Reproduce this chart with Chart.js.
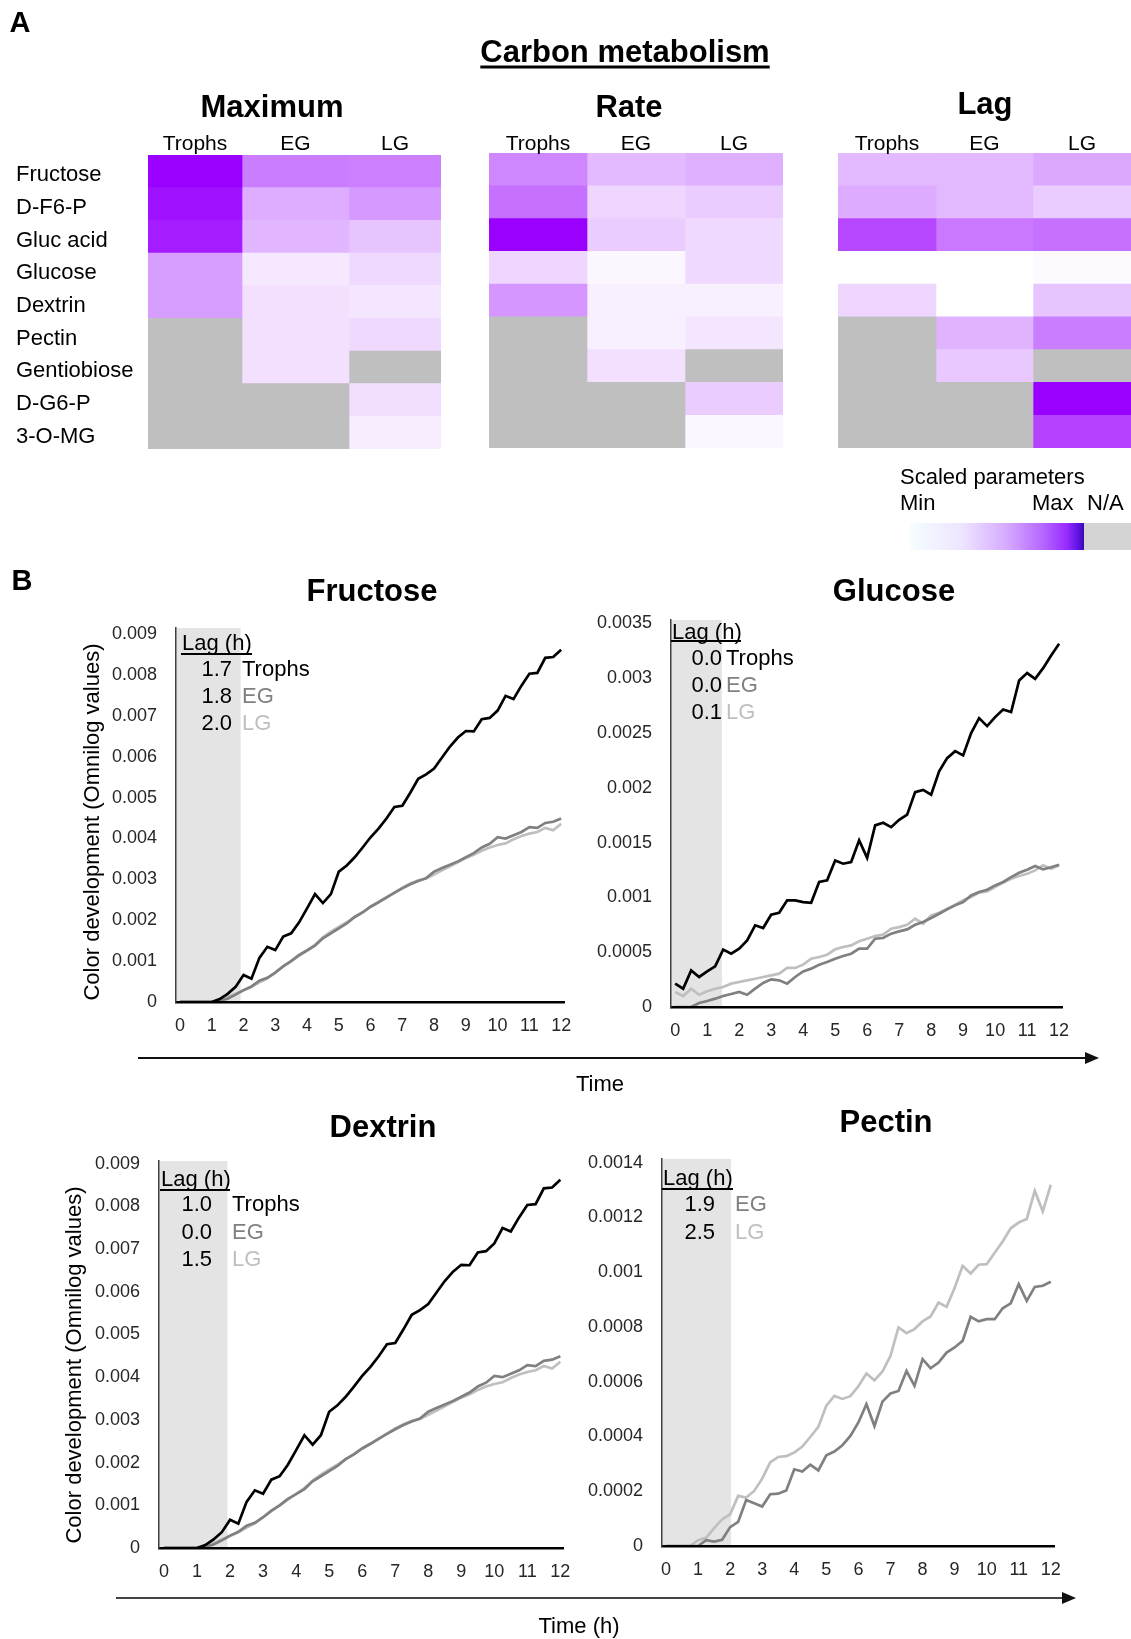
<!DOCTYPE html>
<html>
<head>
<meta charset="utf-8">
<script src="https://cdn.jsdelivr.net/npm/chart.js@4.4.0/dist/chart.umd.min.js"></script>
<style>
  body { margin: 0; background: #fff; overflow: hidden; }
  #fig { position: relative; width: 1131px; height: 1639px; overflow: hidden; font-family: 'Liberation Sans', Arial, sans-serif; color: #000; }
  #fig canvas { position: absolute; }
  .t { position: absolute; white-space: nowrap; line-height: 1; z-index: 3; }
  svg { position: absolute; left: 0; top: 0; z-index: 2; }
</style>
</head>
<body>
<div id="fig"></div>
<script>
// ---- heatmap data (scaled 0..1, null = N/A) ----
const rowNames = ["Fructose", "D-F6-P", "Gluc acid", "Glucose", "Dextrin", "Pectin", "Gentiobiose", "D-G6-P", "3-O-MG"];
const groupNames = ["Trophs", "EG", "LG"];

const maxTrophs = [1.0, 0.93, 0.89, 0.38, 0.38, null, null, null, null];
const maxEG = [0.51, 0.32, 0.29, 0.09, 0.12, 0.12, 0.12, null, null];
const maxLG = [0.50, 0.40, 0.23, 0.15, 0.10, 0.15, null, 0.125, 0.07];

const rateTrophs = [0.47, 0.56, 1.0, 0.16, 0.41, null, null, null, null];
const rateEG = [0.27, 0.16, 0.20, 0.03, 0.06, 0.06, 0.12, null, null];
const rateLG = [0.31, 0.20, 0.15, 0.15, 0.06, 0.10, null, 0.20, 0.035];

const lagTrophs = [0.27, 0.33, 0.72, 0, 0.16, null, null, null, null];
const lagEG = [0.28, 0.28, 0.53, 0, 0, 0.30, 0.22, null, null];
const lagLG = [0.34, 0.20, 0.56, 0.02, 0.23, 0.51, null, 1.0, 0.74];

// ---- growth curves ----
const hours = [0, 0.25, 0.5, 0.75, 1, 1.25, 1.5, 1.75, 2, 2.25, 2.5, 2.75, 3, 3.25, 3.5, 3.75, 4, 4.25, 4.5, 4.75, 5, 5.25, 5.5, 5.75, 6, 6.25, 6.5, 6.75, 7, 7.25, 7.5, 7.75, 8, 8.25, 8.5, 8.75, 9, 9.25, 9.5, 9.75, 10, 10.25, 10.5, 10.75, 11, 11.25, 11.5, 11.75, 12];
const hourTicks = [0, 1, 2, 3, 4, 5, 6, 7, 8, 9, 10, 11, 12];

const fructoseTrophs = [0, 0, 0, 0, 0, 0.00007, 0.0002, 0.00037, 0.00066, 0.00057, 0.00108, 0.00135, 0.00127, 0.0016, 0.00168, 0.00195, 0.00229, 0.00264, 0.00242, 0.00264, 0.00319, 0.00334, 0.00354, 0.00378, 0.00403, 0.00424, 0.00449, 0.00477, 0.0048, 0.00512, 0.00546, 0.00557, 0.00571, 0.00598, 0.00625, 0.00647, 0.00663, 0.00662, 0.00692, 0.00695, 0.00713, 0.00749, 0.00741, 0.00774, 0.00803, 0.00805, 0.00842, 0.00844, 0.00862];
const fructoseEG = [0, 0, 0, 0, 0, 0.00003, 0.00008, 0.00018, 0.00029, 0.00038, 0.00052, 0.00059, 0.00072, 0.00087, 0.001, 0.00115, 0.00126, 0.00138, 0.00156, 0.00168, 0.0018, 0.00192, 0.00208, 0.00219, 0.00233, 0.00244, 0.00256, 0.00267, 0.00278, 0.00288, 0.00296, 0.00303, 0.00319, 0.00328, 0.00336, 0.00344, 0.00354, 0.00364, 0.00378, 0.00387, 0.00403, 0.004, 0.00408, 0.00416, 0.00428, 0.00426, 0.00438, 0.00441, 0.00449];
const fructoseLG = [0, 0, 0, 0, 0, 0.00005, 0.00012, 0.0002, 0.00028, 0.00037, 0.00048, 0.00058, 0.00072, 0.00088, 0.001, 0.00113, 0.00127, 0.0014, 0.00158, 0.00172, 0.00184, 0.00195, 0.00208, 0.0022, 0.00233, 0.00244, 0.00255, 0.00268, 0.0028, 0.0029, 0.00298, 0.00302, 0.00312, 0.00322, 0.00332, 0.00342, 0.00352, 0.0036, 0.0037, 0.00378, 0.00384, 0.00388, 0.00398, 0.00406, 0.00412, 0.00416, 0.00426, 0.0042, 0.00436];

const glucoseTrophs = [0.000213, 0.000167, 0.000334, 0.000274, 0.000325, 0.000371, 0.000523, 0.000486, 0.000532, 0.000608, 0.000745, 0.00072, 0.000842, 0.00086, 0.000973, 0.000973, 0.000957, 0.000951, 0.00114, 0.001155, 0.001337, 0.001307, 0.001322, 0.00152, 0.00136, 0.001657, 0.00168, 0.00164, 0.001708, 0.001754, 0.00196, 0.00198, 0.001936, 0.00215, 0.00227, 0.002334, 0.002295, 0.002498, 0.002635, 0.002562, 0.002644, 0.002714, 0.00269, 0.002979, 0.003046, 0.002994, 0.003091, 0.003207, 0.003313];
const glucoseEG = [0, 0, 0, 0.000036, 0.000055, 0.000076, 0.0001, 0.000119, 0.000137, 0.000112, 0.000167, 0.000219, 0.000252, 0.000243, 0.000213, 0.000274, 0.000325, 0.00035, 0.000386, 0.00041, 0.000441, 0.000465, 0.000486, 0.000532, 0.000532, 0.000623, 0.000629, 0.000669, 0.00069, 0.000708, 0.00075, 0.000775, 0.000812, 0.000851, 0.00089, 0.000927, 0.000957, 0.001018, 0.001049, 0.00107, 0.001109, 0.00114, 0.001185, 0.001225, 0.001252, 0.001286, 0.001255, 0.001275, 0.001298];
const glucoseLG = [0.000137, 0.0001, 0.000167, 0.000112, 0.000143, 0.000167, 0.000182, 0.000213, 0.000228, 0.000243, 0.000258, 0.000274, 0.000289, 0.000304, 0.000356, 0.000356, 0.000386, 0.000441, 0.000456, 0.000477, 0.000526, 0.000547, 0.000562, 0.000599, 0.000623, 0.000647, 0.00066, 0.000714, 0.000729, 0.00075, 0.000805, 0.00076, 0.000836, 0.00086, 0.000897, 0.000933, 0.000973, 0.001003, 0.001043, 0.001055, 0.001094, 0.001134, 0.00117, 0.001195, 0.001216, 0.001246, 0.001292, 0.001261, 0.001292];

const dextrinTrophs = [0, 0, 0, 0, 0, 0.00007, 0.0002, 0.00037, 0.00066, 0.00057, 0.00108, 0.00135, 0.00127, 0.0016, 0.00168, 0.00195, 0.00229, 0.00264, 0.00242, 0.00264, 0.00319, 0.00334, 0.00354, 0.00378, 0.00403, 0.00424, 0.00449, 0.00477, 0.0048, 0.00512, 0.00546, 0.00557, 0.00571, 0.00598, 0.00625, 0.00647, 0.00663, 0.00662, 0.00692, 0.00695, 0.00713, 0.00749, 0.00741, 0.00774, 0.00803, 0.00805, 0.00842, 0.00844, 0.00862];
const dextrinEG = [0, 0, 0, 0, 0, 0.00003, 0.00008, 0.00018, 0.00029, 0.00038, 0.00052, 0.00059, 0.00072, 0.00087, 0.001, 0.00115, 0.00126, 0.00138, 0.00156, 0.00168, 0.0018, 0.00192, 0.00208, 0.00219, 0.00233, 0.00244, 0.00256, 0.00267, 0.00278, 0.00288, 0.00296, 0.00303, 0.00319, 0.00328, 0.00336, 0.00344, 0.00354, 0.00364, 0.00378, 0.00387, 0.00403, 0.004, 0.00408, 0.00416, 0.00428, 0.00426, 0.00438, 0.00441, 0.00449];
const dextrinLG = [0, 0, 0, 0, 0, 0.00005, 0.00012, 0.0002, 0.00028, 0.00037, 0.00048, 0.00058, 0.00072, 0.00088, 0.001, 0.00113, 0.00127, 0.0014, 0.00158, 0.00172, 0.00184, 0.00195, 0.00208, 0.0022, 0.00233, 0.00244, 0.00255, 0.00268, 0.0028, 0.0029, 0.00298, 0.00302, 0.00312, 0.00322, 0.00332, 0.00342, 0.00352, 0.0036, 0.0037, 0.00378, 0.00384, 0.00388, 0.00398, 0.00406, 0.00412, 0.00416, 0.00426, 0.0042, 0.00436];

const pectinEG = [0, 0, 0, 0, 0, 0.000021, 0.000016, 0.000023, 0.000069, 0.000088, 0.000168, 0.000156, 0.000144, 0.000189, 0.000191, 0.000203, 0.00028, 0.000272, 0.000297, 0.000276, 0.000331, 0.000345, 0.000368, 0.000402, 0.000451, 0.000518, 0.000438, 0.000527, 0.000557, 0.000566, 0.000639, 0.000585, 0.000682, 0.000649, 0.00067, 0.000706, 0.000725, 0.000749, 0.000837, 0.00082, 0.000828, 0.000828, 0.000868, 0.000886, 0.000956, 0.000895, 0.000946, 0.00095, 0.000965];
const pectinLG = [0, 0, 0, 0, 0.000021, 0.00003, 0.000065, 0.000097, 0.000116, 0.000183, 0.000177, 0.000201, 0.000246, 0.000305, 0.000325, 0.000328, 0.000341, 0.000363, 0.000398, 0.000435, 0.000512, 0.000548, 0.000537, 0.000547, 0.000583, 0.00063, 0.000605, 0.000637, 0.000694, 0.000798, 0.000777, 0.000792, 0.00082, 0.000838, 0.000889, 0.000873, 0.000942, 0.001023, 0.000995, 0.001027, 0.001029, 0.001071, 0.001112, 0.00116, 0.001181, 0.001194, 0.001297, 0.001222, 0.001319];

const fructoseYTicks = [0, 0.001, 0.002, 0.003, 0.004, 0.005, 0.006, 0.007, 0.008, 0.009];
const glucoseYTicks = [0, 0.0005, 0.001, 0.0015, 0.002, 0.0025, 0.003, 0.0035];
const pectinYTicks = [0, 0.0002, 0.0004, 0.0006, 0.0008, 0.001, 0.0012, 0.0014];

const fructoseLag = [1.7, 1.8, 2.0];
const glucoseLag = [0.0, 0.0, 0.1];
const dextrinLag = [1.0, 0.0, 1.5];
const pectinLag = [1.9, 2.5];

const groupColors = { Trophs: "#000000", EG: "#808080", LG: "#bfbfbf" };
const naGray = "#bfbfbf";

const fig = document.getElementById("fig");
Chart.defaults.font.family = "'Liberation Sans', Arial, sans-serif";
Chart.defaults.color = "#262626";

function addCanvas(box) {
	const canvas = document.createElement("canvas");
	canvas.width = box.width;
	canvas.height = box.height;
	canvas.style.left = box.left + "px";
	canvas.style.top = box.top + "px";
	fig.appendChild(canvas);
	return canvas;
}

function addText(str, x, y, o = {}) {
	const el = document.createElement("div");
	el.className = "t";
	el.textContent = str;
	el.style.left = x + "px";
	el.style.top = y + "px";
	el.style.fontSize = (o.size || 22) + "px";
	if (o.bold) el.style.fontWeight = "bold";
	if (o.color) el.style.color = o.color;
	if (o.underline) {
		el.style.textDecoration = "underline";
		el.style.textDecorationThickness = "3px";
		el.style.textUnderlineOffset = "4px";
	}
	const ax = o.align === "left" ? "0" : o.align === "right" ? "-100%" : "-50%";
	el.style.transform = `translate(${ax}, -50%)` + (o.rotate ? ` rotate(${o.rotate}deg)` : "");
	fig.appendChild(el);
	return el;
}

function heatColor(v) {
	if (v === null) return naGray;
	const r = Math.round(255 - 102 * v);
	const g = Math.round(255 - 255 * v);
	return `rgb(${r},${g},255)`;
}

// ---- heatmaps ----
const heatPanels = [
	{ title: "Maximum", titlePos: [272, 106], values: [maxTrophs, maxEG, maxLG], box: { left: 148, top: 155, width: 293, height: 294 }, spans: [94, 107, 92] },
	{ title: "Rate", titlePos: [629, 106], values: [rateTrophs, rateEG, rateLG], box: { left: 489, top: 153, width: 294, height: 295 }, spans: [98, 98, 98] },
	{ title: "Lag", titlePos: [985, 103], values: [lagTrophs, lagEG, lagLG], box: { left: 838, top: 153, width: 293, height: 295 }, spans: [98, 97, 98] },
];

heatPanels.forEach((panel) => {
	const canvas = addCanvas(panel.box);
	const total = panel.spans.reduce((a, b) => a + b, 0);
	new Chart(canvas, {
		type: "bar",
		data: {
			labels: rowNames,
			datasets: groupNames.map((g, i) => ({
				label: g,
				data: rowNames.map(() => panel.spans[i]),
				backgroundColor: panel.values[i].map(heatColor),
				borderWidth: 0,
				barPercentage: 1,
				categoryPercentage: 1,
			})),
		},
		options: {
			indexAxis: "y",
			responsive: false,
			animation: false,
			events: [],
			layout: { padding: 0 },
			plugins: { legend: { display: false }, tooltip: { enabled: false } },
			scales: {
				x: { stacked: true, display: false, min: 0, max: total },
				y: { stacked: true, display: false },
			},
		},
	});

	addText(panel.title, panel.titlePos[0], panel.titlePos[1], { size: 31, bold: true });
	let acc = panel.box.left;
	groupNames.forEach((g, i) => {
		addText(g, acc + panel.spans[i] / 2, 142, { size: 21 });
		acc += panel.spans[i];
	});
});

const rowH = 294 / rowNames.length;
rowNames.forEach((name, i) => {
	addText(name, 16, 155 + rowH * (i + 0.5) + 3, { size: 22, align: "left" });
});

// ---- growth curve charts ----
const lagShade = {
	id: "lagShade",
	beforeDraw(chart, args, opts) {
		if (!opts || opts.until === undefined) return;
		const { ctx, chartArea, scales } = chart;
		const x1 = scales.x.getPixelForValue(opts.until);
		ctx.save();
		ctx.fillStyle = opts.color;
		ctx.fillRect(chartArea.left, chartArea.top, x1 - chartArea.left, chartArea.bottom - chartArea.top);
		ctx.restore();
	},
};
Chart.register(lagShade);

// tick padding adds to the axis' own top/bottom padding, so keep the layout padding above it
const AXIS_W = 100, AXIS_H = 44, PAD_TOP = 36, PAD_RIGHT = 26;

const lineCharts = [
	{
		title: "Fructose", titlePos: [372, 590],
		plot: { left: 176, right: 564, top: 628, bottom: 1002 },
		xMin: -0.126, xMax: 12.09, yMax: 0.00915, yTicks: fructoseYTicks, shadeTo: 1.91,
		series: [["Trophs", fructoseTrophs], ["EG", fructoseEG], ["LG", fructoseLG]],
		lag: fructoseLag, lagGroups: ["Trophs", "EG", "LG"],
		table: { left: 182, headY: 643, lineY: 654, lineW: 71, rows: [669, 696, 723], numRight: 232, nameLeft: 242 },
		yTitle: [92, 822],
	},
	{
		title: "Glucose", titlePos: [894, 590],
		plot: { left: 671, right: 1062, top: 620, bottom: 1007 },
		xMin: -0.13, xMax: 12.09, yMax: 0.00353, yTicks: glucoseYTicks, shadeTo: 1.46,
		series: [["Trophs", glucoseTrophs], ["EG", glucoseEG], ["LG", glucoseLG]],
		lag: glucoseLag, lagGroups: ["Trophs", "EG", "LG"],
		table: { left: 672, headY: 632, lineY: 641, lineW: 70, rows: [658, 685, 712], numRight: 722, nameLeft: 726 },
	},
	{
		title: "Dextrin", titlePos: [383, 1126],
		plot: { left: 159, right: 563, top: 1161, bottom: 1548 },
		xMin: -0.152, xMax: 12.08, yMax: 0.00906, yTicks: fructoseYTicks, shadeTo: 1.92,
		series: [["Trophs", dextrinTrophs], ["EG", dextrinEG], ["LG", dextrinLG]],
		lag: dextrinLag, lagGroups: ["Trophs", "EG", "LG"],
		table: { left: 161, headY: 1179, lineY: 1190, lineW: 70, rows: [1204, 1232, 1259], numRight: 212, nameLeft: 232 },
		yTitle: [74, 1365],
	},
	{
		title: "Pectin", titlePos: [886, 1121],
		plot: { left: 662, right: 1054, top: 1159, bottom: 1546 },
		xMin: -0.125, xMax: 12.1, yMax: 0.001413, yTicks: pectinYTicks, shadeTo: 2.03,
		series: [["EG", pectinEG], ["LG", pectinLG]],
		lag: pectinLag, lagGroups: ["EG", "LG"],
		table: { left: 663, headY: 1178, lineY: 1189, lineW: 71, rows: [1204, 1232], numRight: 715, nameLeft: 735 },
	},
];

lineCharts.forEach((c) => {
	const p = c.plot;
	const canvas = addCanvas({
		left: p.left - AXIS_W,
		top: p.top - PAD_TOP,
		width: AXIS_W + (p.right - p.left) + PAD_RIGHT,
		height: PAD_TOP + (p.bottom - p.top) + AXIS_H,
	});
	new Chart(canvas, {
		type: "line",
		data: {
			datasets: c.series.map(([label, values]) => ({
				label,
				data: hours.map((h, i) => ({ x: h, y: values[i] })),
				borderColor: groupColors[label],
				borderWidth: 2.7,
				pointRadius: 0,
				tension: 0,
				fill: false,
			})),
		},
		options: {
			responsive: false,
			animation: false,
			events: [],
			layout: { padding: { top: PAD_TOP, right: PAD_RIGHT, left: 0, bottom: 0 } },
			plugins: {
				legend: { display: false },
				tooltip: { enabled: false },
				lagShade: { until: c.shadeTo, color: "#e4e4e4" },
			},
			scales: {
				x: {
					type: "linear",
					min: c.xMin,
					max: c.xMax,
					afterBuildTicks: (s) => { s.ticks = hourTicks.map((v) => ({ value: v })); },
					afterFit: (s) => { s.height = AXIS_H; },
					grid: { display: false, drawTicks: false },
					border: { display: true, color: "#000", width: 2.5, z: 1 },
					ticks: { padding: 13, font: { size: 18 }, color: "#262626", maxRotation: 0, autoSkip: false, callback: (v) => String(v) },
				},
				y: {
					min: 0,
					max: c.yMax,
					afterBuildTicks: (s) => { s.ticks = c.yTicks.map((v) => ({ value: v })); },
					afterFit: (s) => { s.width = AXIS_W; },
					grid: { display: false, drawTicks: false },
					border: { display: true, color: "#404040", width: 1.5, z: 1 },
					ticks: { padding: 19, font: { size: 18 }, color: "#262626", autoSkip: false, callback: (v) => String(v) },
				},
			},
		},
	});

	addText(c.title, c.titlePos[0], c.titlePos[1], { size: 31, bold: true });
	if (c.yTitle) addText("Color development (Omnilog values)", c.yTitle[0], c.yTitle[1], { size: 22, rotate: -90 });

	const t = c.table;
	addText("Lag (h)", t.left, t.headY, { size: 22, align: "left" });
	const rule = document.createElement("div");
	rule.style.cssText = `position:absolute;left:${t.left - 1}px;top:${t.lineY - 1}px;width:${t.lineW}px;height:2px;background:#000;z-index:3;`;
	fig.appendChild(rule);
	c.lag.forEach((v, i) => {
		addText(v.toFixed(1), t.numRight, t.rows[i], { size: 22, align: "right" });
		addText(c.lagGroups[i], t.nameLeft, t.rows[i], { size: 22, align: "left", color: groupColors[c.lagGroups[i]] });
	});
});

// ---- headings, legend, time arrows ----
addText("A", 20, 22, { size: 29, bold: true });
addText("B", 22, 580, { size: 29, bold: true });
addText("Carbon metabolism", 625, 51, { size: 31, bold: true, underline: true });

addText("Scaled parameters", 900, 477, { size: 22, align: "left" });
addText("Min", 900, 503, { size: 22, align: "left" });
addText("Max", 1032, 503, { size: 22, align: "left" });
addText("N/A", 1087, 503, { size: 22, align: "left" });
const bar = document.createElement("div");
bar.style.cssText = "position:absolute;left:910px;top:523px;width:174px;height:27px;background:linear-gradient(to right,#f4feff 0%,#eee4ff 30%,#d6acff 55%,#b86cff 75%,#9a2cff 90%,#5a12e0 97%,#3a08b0 100%);";
fig.appendChild(bar);
const naBox = document.createElement("div");
naBox.style.cssText = "position:absolute;left:1084px;top:523px;width:47px;height:27px;background:#d4d4d4;";
fig.appendChild(naBox);

const svgNS = "http://www.w3.org/2000/svg";
const svg = document.createElementNS(svgNS, "svg");
svg.setAttribute("width", "1131");
svg.setAttribute("height", "1639");
svg.innerHTML =
	'<line x1="138" y1="1058" x2="1086" y2="1058" stroke="#111" stroke-width="2"/>' +
	'<polygon points="1099,1058 1085,1052 1085,1064" fill="#111"/>' +
	'<line x1="116" y1="1598" x2="1064" y2="1598" stroke="#444" stroke-width="2"/>' +
	'<polygon points="1076,1598 1062,1592 1062,1604" fill="#111"/>';
fig.appendChild(svg);

addText("Time", 600, 1084, { size: 22 });
addText("Time (h)", 579, 1626, { size: 22 });
</script>
</body>
</html>
